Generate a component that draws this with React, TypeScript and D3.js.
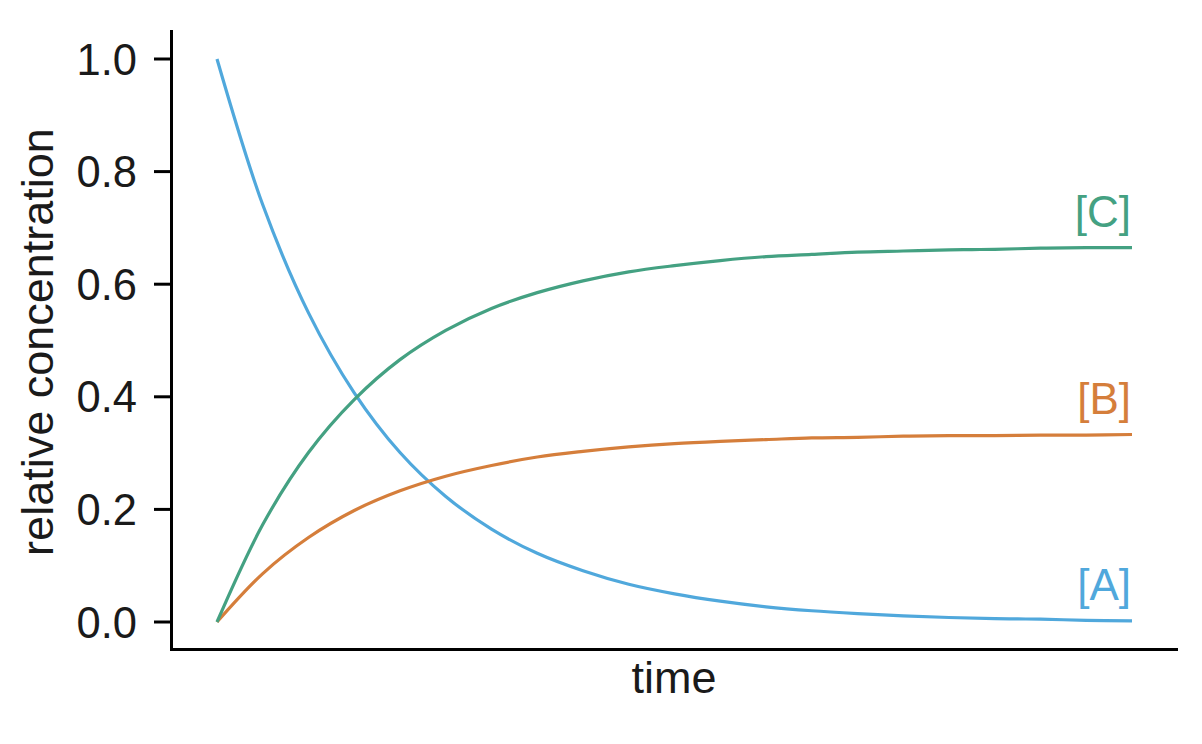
import React from 'react'
import * as d3 from 'd3'

// values, 21 evenly spaced time samples
const timeSteps = [0, 0.05, 0.1, 0.15, 0.2, 0.25, 0.3, 0.35, 0.4, 0.45, 0.5, 0.55, 0.6, 0.65, 0.7, 0.75, 0.8, 0.85, 0.9, 0.95, 1]
const concA = [1, 0.741, 0.549, 0.407, 0.301, 0.223, 0.165, 0.122, 0.091, 0.067, 0.05, 0.037, 0.027, 0.02, 0.015, 0.011, 0.008, 0.006, 0.005, 0.003, 0.002]
const concB = [0, 0.086, 0.15, 0.198, 0.233, 0.259, 0.278, 0.293, 0.303, 0.311, 0.317, 0.321, 0.324, 0.327, 0.328, 0.33, 0.331, 0.331, 0.332, 0.332, 0.333]
const concC = [0, 0.173, 0.301, 0.395, 0.466, 0.518, 0.557, 0.585, 0.606, 0.622, 0.633, 0.642, 0.649, 0.653, 0.657, 0.659, 0.661, 0.662, 0.664, 0.665, 0.665]
const seriesNames = ['[A]', '[B]', '[C]']
const yTicks = [0, 0.2, 0.4, 0.6, 0.8, 1.0]

const colors = ['#50a8dc', '#d57e3b', '#44a182']
const font = '"Liberation Sans", Arial, Helvetica, sans-serif'
const ink = '#1a1a1a'

export default function App() {
	const width = 1202
	const height = 744

	const x = d3.scaleLinear().domain([0, 1]).range([217, 1132])
	const y = d3.scaleLinear().domain([0, 1]).range([622, 59])

	const line = d3.line<number>()
		.x((_, i) => x(timeSteps[i]))
		.y(d => y(d))
		.curve(d3.curveCatmullRom.alpha(0.5))

	const series = [concA, concB, concC]

	return (
		<svg width={width} height={height} style={{ position: 'absolute', left: 0, top: 0 }} fontFamily={font}>
			<rect width={width} height={height} fill="#fff" />

			{/* spines */}
			<line x1={171.5} x2={171.5} y1={30} y2={651} stroke="#000" strokeWidth={3} />
			<line x1={170} x2={1178} y1={649.5} y2={649.5} stroke="#000" strokeWidth={3} />

			{yTicks.map(t => (
				<g key={t} transform={`translate(0, ${y(t)})`}>
					<line x1={154} x2={171} stroke="#000" strokeWidth={3} />
					<text x={137} dy={15.5} textAnchor="end" fontSize={43.5} fill={ink}>{d3.format('.1f')(t)}</text>
				</g>
			))}

			{series.map((s, i) => (
				<path key={i} d={line(s) || ''} fill="none" stroke={colors[i]} strokeWidth={3.2} strokeLinecap="butt" />
			))}

			{series.map((s, i) => (
				<text key={i} x={1131} y={y(s[s.length - 1]) - 21} textAnchor="end" fontSize={44} fill={colors[i]}>
					{seriesNames[i]}
				</text>
			))}

			<text x={674} y={693} textAnchor="middle" fontSize={45} fill={ink}>time</text>
			<text transform="translate(53, 342) rotate(-90)" textAnchor="middle" fontSize={45} fill={ink}>relative concentration</text>
		</svg>
	)
}
